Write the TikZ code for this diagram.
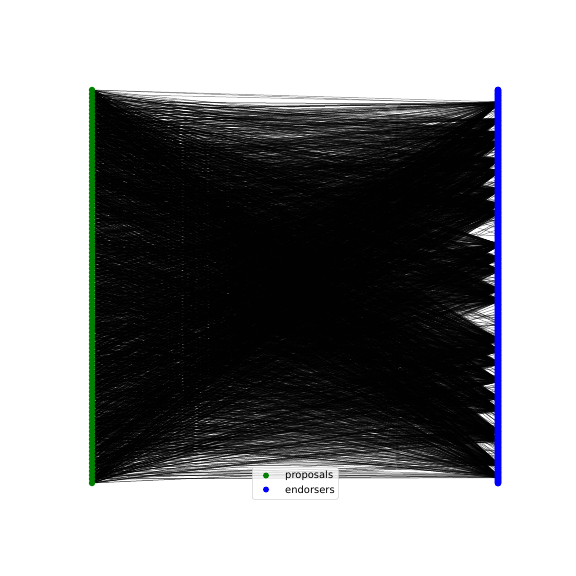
\documentclass[tikz,border=0pt]{standalone}
\usepackage{fontspec}
\setmainfont{DejaVu Sans}
\definecolor{mplgreen}{HTML}{008000}
\definecolor{mplblue}{HTML}{0000FF}
\begin{document}
\begin{tikzpicture}[x=1bp,y=-1bp,
  edge/.style={draw=black,line width=0.5bp,opacity=0.5},
  pdot/.style={circle,fill=mplgreen,inner sep=0pt,minimum size=6.5bp},
  edot/.style={circle,fill=mplblue,inner sep=0pt,minimum size=7bp},
  legendbox/.style={draw=black!18,fill=white,fill opacity=0.8,rounded corners=2bp,line width=0.6bp},
  legtext/.style={font=\fontsize{10}{11}\selectfont,anchor=west,inner sep=0pt}]
\useasboundingbox (0,0) rectangle (576,576);
\pgfmathsetseed{11}
\def\hubs{{11,24,34,41,54,63,77,88,94,119,129,138,153,161,191,199,209,222,235,244,261,267,286,295}}
\foreach \i in {1,...,100} \coordinate (p\i) at (92,{90+(\i-1)*(393/99)});
\foreach \j in {1,...,300} \coordinate (e\j) at (498,{90+(\j-1)*(393/299)});
\foreach \k in {1,...,4600}{
  \pgfmathtruncatemacro\a{random(1,100)}
  \pgfmathtruncatemacro\r{random(0,23)}
  \pgfmathtruncatemacro\h{\hubs[\r]+random(-1,1)}
  \pgfmathtruncatemacro\u{random(11,295)}
  \pgfmathtruncatemacro\b{rnd<0.92 ? \h : \u}
  \draw[edge] (p\a) -- (e\b);
}
\foreach \i in {1,...,100} \node[pdot] (pn\i) at (p\i) {};
\foreach \j in {1,...,300} \node[edot] (en\j) at (e\j) {};
\node[legendbox,minimum width=86bp,minimum height=32bp,anchor=north west] (legend) at (252,467) {};
\node[pdot,minimum size=6bp] (lg1) at (266,475.5) {};
\node[edot,minimum size=6bp] (lg2) at (266,489.5) {};
\node[legtext] (lt1) at (285,475.5) {proposals};
\node[legtext] (lt2) at (285,489.5) {endorsers};
\end{tikzpicture}
\end{document}
